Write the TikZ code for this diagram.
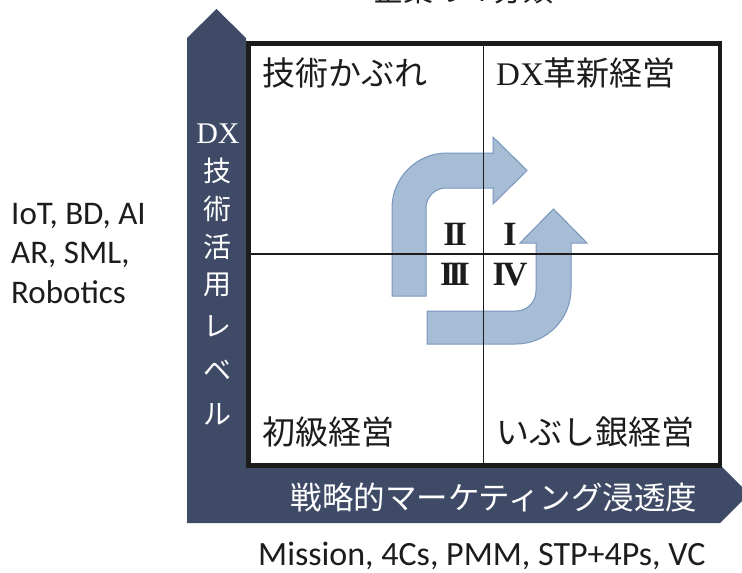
\documentclass[tikz,border=0pt]{standalone}
\usepackage{fontspec}
\newfontfamily\cjk{Noto Sans CJK JP}
\newfontfamily\latsans{Carlito}
\newfontfamily\latserif{Liberation Serif}
\definecolor{barblue}{HTML}{3E4A66}
\definecolor{arrowfill}{HTML}{A7BDD5}
\definecolor{arrowline}{HTML}{7896BC}
\definecolor{ink}{HTML}{1C1C1C}
\tikzset{
  qlabel/.style={anchor=west, inner sep=0pt, text=ink, font=\cjk\fontsize{33}{33}\selectfont},
  vlabel/.style={inner sep=0pt, text=white, font=\cjk\fontsize{28}{28}\selectfont},
  numeral/.style={inner sep=0pt, text=ink, font=\latserif\bfseries\fontsize{34}{34}\selectfont},
  sidetext/.style={anchor=base west, inner sep=0pt, text=ink, font=\latsans\fontsize{33}{33}\selectfont},
  bentarrow/.style={fill=arrowfill, draw=arrowline, line width=1pt, line join=miter},
}
\begin{document}
\begin{tikzpicture}[x=1pt,y=-1pt]
\clip (0,0) rectangle (742,573);
\fill[white] (0,0) rectangle (742,573);
% axis bars
\fill[barblue] (187,523) -- (187,38) -- (216.5,9) -- (246,38) -- (246,465)
  -- (720,465) -- (749,494) -- (720,523) -- cycle;
% matrix frame
\draw[ink, line width=4.5pt, fill=white] (248.25,43.25) rectangle (719.75,465.5);
% bent arrows
\draw[bentarrow] (392,296) -- (392,208) arc[start angle=180, end angle=270, radius=55]
  -- (493,153) -- (493,137) -- (527,170.5) -- (493,204) -- (493,188) -- (446,188)
  arc[start angle=270, end angle=180, radius=20] -- (426,296) -- cycle;
\draw[bentarrow] (427,311) -- (516,311) arc[start angle=90, end angle=0, radius=20]
  -- (536,243) -- (520,243) -- (553.5,209) -- (587,243) -- (571,243) -- (571,289)
  arc[start angle=0, end angle=90, radius=55] -- (427,344) -- cycle;
% dividers
\draw[ink, line width=1.3pt] (483.5,45.5) -- (483.5,463.2);
\draw[ink, line width=1.3pt] (250.5,254) -- (717.5,254);
% quadrant labels
\node[qlabel] (q2) at (262,73) {技術かぶれ};
\node[qlabel] (q1) at (496,73) {{\latserif DX}革新経営};
\node[qlabel] (q3) at (262,432) {初級経営};
\node[qlabel] (q4) at (496,432) {いぶし銀経営};
% numerals
\node[numeral] (n2) at (455,234) {I\kern-3ptI};
\node[numeral] (n1) at (510,234) {I};
\node[numeral] (n3) at (455,274.5) {I\kern-5ptI\kern-5ptI};
\node[numeral] (n4) at (510,274.5) {I\kern-3ptV};
% vertical axis label
\node[vlabel, font=\latserif\fontsize{30}{30}\selectfont] (vDX) at (218,134) {DX};
\node[vlabel] (v1) at (217,171) {技};
\node[vlabel] (v2) at (217,209) {術};
\node[vlabel] (v3) at (217,247) {活};
\node[vlabel] (v4) at (217,285) {用};
\node[vlabel] (v5) at (217,326) {レ};
\node[vlabel] (v6) at (217,370) {ベ};
\node[vlabel] (v7) at (217,414) {ル};
% horizontal axis label
\node[vlabel, font=\cjk\fontsize{31.5}{31.5}\selectfont] (hlab) at (494,497) {戦略的マーケティング浸透度};
% side texts
\node[sidetext] (s1) at (11,224) {IoT, BD, AI};
\node[sidetext] (s2) at (11,263.5) {AR, SML,};
\node[sidetext] (s3) at (11,303) {Robotics};
\node[sidetext, font=\latsans\fontsize{34}{34}\selectfont] (s4) at (258,565) {Mission, 4Cs, PMM, STP+4Ps, VC};
% title (cut off at top, as in the reference)
\node[anchor=base, inner sep=0pt, text=ink, font=\cjk\fontsize{30}{30}\selectfont] (title) at (463,1.5) {企業の４分類};
\end{tikzpicture}
\end{document}
